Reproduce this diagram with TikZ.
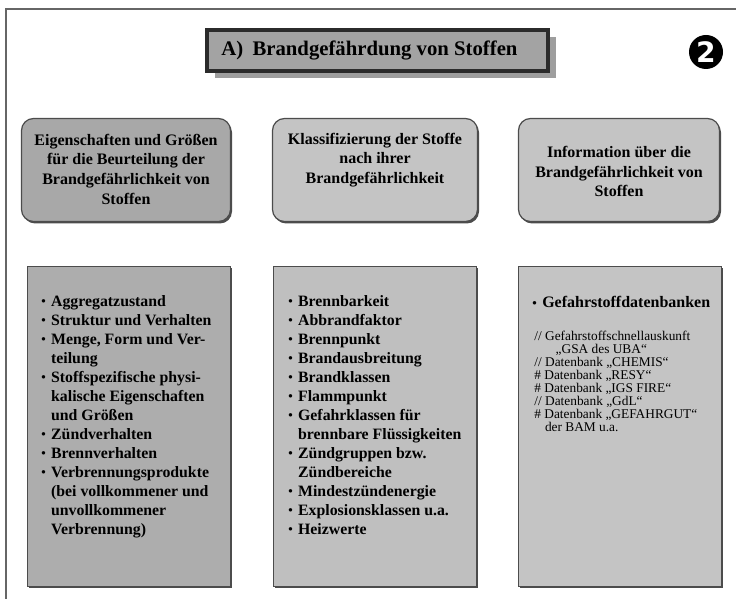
\documentclass[tikz,border=0pt]{standalone}
\usepackage{fontspec}
\setmainfont{Liberation Serif}
\newfontfamily\badgefont{DejaVu Sans}
\usepackage{tikz}
\usetikzlibrary{shadows}
\newcommand{\bul}{\makebox[0.62em][l]{\raisebox{0.05ex}{\scalebox{0.8}{•}}}}
\newcommand{\ind}{\hspace*{0.62em}}
\tikzset{
  frame/.style={draw=cr, line width=0.8pt},
  titlebox/.style={draw=cb0, line width=2.3pt, fill=cf0, minimum width=6.82cm, minimum height=0.82cm,
    drop shadow={shadow xshift=0.15cm, shadow yshift=-0.15cm, fill=cs0, opacity=1}},
  titletext/.style={anchor=west, inner sep=0pt, font=\bfseries\fontsize{11.8}{14}\selectfont},
  badge/.style={circle, fill=black, text=white, minimum size=0.68cm, inner sep=0pt,
    font=\badgefont\bfseries\fontsize{16}{16}\selectfont},
  headbox/.style={draw=cb1, line width=0.7pt, rounded corners=0.24cm, minimum height=2.06cm,
    drop shadow={shadow xshift=0.03cm, shadow yshift=-0.04cm, fill=cb1, opacity=1}},
  headtext/.style={inner sep=0pt, align=center, font=\bfseries\fontsize{9.1}{11.2}\selectfont},
  listbox/.style={draw=cb1, line width=0.7pt, minimum width=4.06cm, minimum height=6.4cm,
    drop shadow={shadow xshift=0.035cm, shadow yshift=-0.04cm, fill=cb1, opacity=1}},
  listtext/.style={anchor=north west, inner sep=0pt, align=left, font=\bfseries\fontsize{9}{10.8}\selectfont},
  smalltext/.style={anchor=north west, inner sep=0pt, align=left, font=\fontsize{7.6}{7.4}\selectfont},
}
\begin{document}
\begin{tikzpicture}
\definecolor{cr}{rgb}{0.4,0.4,0.4}
\definecolor{cb0}{rgb}{0.17,0.17,0.17}
\definecolor{cf0}{rgb}{0.64,0.64,0.64}
\definecolor{cs0}{rgb}{0.62,0.62,0.62}
\definecolor{cb1}{rgb}{0.3,0.3,0.3}
\definecolor{ck1}{rgb}{0.66,0.66,0.66}
\definecolor{ck2}{rgb}{0.77,0.77,0.77}
\definecolor{ck3}{rgb}{0.77,0.77,0.77}
\definecolor{cl1}{rgb}{0.68,0.68,0.68}
\definecolor{cl2}{rgb}{0.75,0.75,0.75}
\definecolor{cl3}{rgb}{0.77,0.77,0.77}
%
\useasboundingbox (0,0) rectangle (14.72,11.98);
\coordinate (f0) at (0.12,0);
\coordinate (f1) at (0.12,11.80);
\coordinate (f2) at (14.72,11.80);
\draw[frame] (f0) -- (f1) -- (f2);
%
\node[titlebox] (t0) at (7.55,10.97) {};
\node[titletext] (t1) at ([xshift=0.32cm]t0.west) {A)\hspace{0.45em}Brandgefährdung von Stoffen};
\node[badge] (n2) at (14.12,10.94) {2};
%
\node[headbox,fill=ck1,minimum width=4.18cm] (k1) at (2.52,8.58) {};
\node[headbox,fill=ck2,minimum width=4.10cm] (k2) at (7.50,8.58) {};
\node[headbox,fill=ck3,minimum width=4.02cm] (k3) at (12.38,8.58) {};
\node[headtext] (h1) at ([yshift=0.02cm]k1.center) {Eigenschaften und Größen\\für die Beurteilung der\\Brandgefährlichkeit von\\Stoffen};
\node[headtext] (h2) at ([yshift=0.2cm]k2.center) {Klassifizierung der Stoffe\\nach ihrer\\Brandgefährlichkeit};
\node[headtext] (h3) at ([yshift=-0.03cm]k3.center) {Information über die\\Brandgefährlichkeit von\\Stoffen};
%
\node[listbox,fill=cl1] (b1) at (2.58,3.45) {};
\node[listbox,fill=cl2] (b2) at (7.50,3.45) {};
\node[listbox,fill=cl3] (b3) at (12.40,3.45) {};
%
\node[listtext] (l1) at (0.82,6.08) {\bul Aggregatzustand\\
\bul Struktur und Verhalten\\
\bul Menge, Form und Ver-\\
\ind teilung\\
\bul Stoffspezifische physi-\\
\ind kalische Eigenschaften\\
\ind und Größen\\
\bul Zündverhalten\\
\bul Brennverhalten\\
\bul Verbrennungsprodukte\\
\ind (bei vollkommener und\\
\ind unvollkommener\\
\ind Verbrennung)};
\node[listtext] (l2) at (5.76,6.08) {\bul Brennbarkeit\\
\bul Abbrandfaktor\\
\bul Brennpunkt\\
\bul Brandausbreitung\\
\bul Brandklassen\\
\bul Flammpunkt\\
\bul Gefahrklassen für\\
\ind brennbare Flüssigkeiten\\
\bul Zündgruppen bzw.\\
\ind Zündbereiche\\
\bul Mindestzündenergie\\
\bul Explosionsklassen u.a.\\
\bul Heizwerte};
\node[listtext,font=\bfseries\fontsize{9.1}{11}\selectfont] (l3) at (10.64,6.06) {\bul Gefahrstoffdatenbanken};
\node[smalltext] (s3) at (10.68,5.36) {// Gefahrstoffschnellauskunft\\
\hspace*{1.6em}„GSA des UBA“\\
// Datenbank „CHEMIS“\\
\# Datenbank „RESY“\\
\# Datenbank „IGS FIRE“\\
// Datenbank „GdL“\\
\# Datenbank „GEFAHRGUT“\\
\hspace*{0.8em}der BAM u.a.};
%
\end{tikzpicture}
\end{document}
